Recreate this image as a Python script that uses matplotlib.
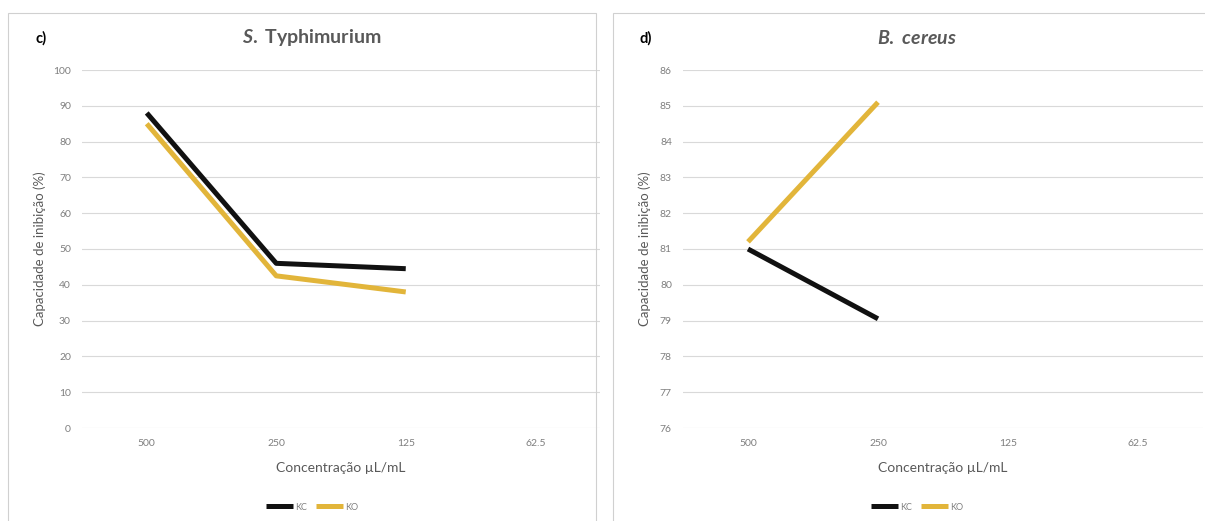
import matplotlib
matplotlib.use("Agg")
import matplotlib.pyplot as plt
from matplotlib.patches import Rectangle

plt.rcParams['font.family'] = ['Lato', 'DejaVu Sans']
plt.rcParams['mathtext.fontset'] = 'custom'
plt.rcParams['mathtext.it'] = 'Lato:italic:bold'
plt.rcParams['mathtext.rm'] = 'Lato:bold'

# --- DADOS ---
concentracoes = ["500", "250", "125", "62.5"]

st_kc = [88, 46, 44.5]
st_ko = [85, 42.5, 38]

bc_kc = [81, 79.05]
bc_ko = [81.2, 85.1]

cor_kc = "#111111"
cor_ko = "#E2B53A"
cinza_txt = "#595959"
cinza_grid = "#D9D9D9"

W, H = 1205, 521
fig = plt.figure(figsize=(W / 100, H / 100), dpi=100)


def fx(px):
    return px / W


def fy(py):
    return 1 - py / H


# bordas dos painéis
for x0, x1 in [(8, 596), (613, 1210)]:
    fig.patches.append(Rectangle((fx(x0), fy(530)), fx(x1 - x0), (530 - 13) / H,
                                 transform=fig.transFigure, fill=False,
                                 edgecolor="#D0D0D0", lw=0.8))


def painel(esq, dir_, kc, ko, ylim, letra, titulo, letra_x, titulo_x, ylab_x):
    ax = fig.add_axes([fx(esq), fy(428), fx(dir_ - esq), (428 - 70) / H])
    ax.plot(range(len(kc)), kc, color=cor_kc, lw=3.6, solid_capstyle="butt", label="KC", zorder=3)
    ax.plot(range(len(ko)), ko, color=cor_ko, lw=3.6, solid_capstyle="butt", label="KO", zorder=3)
    ax.set_xlim(-0.5, len(concentracoes) - 0.5)
    ax.set_ylim(*ylim)
    ax.set_xticks(range(len(concentracoes)))
    ax.set_xticklabels(concentracoes)
    step = 10 if ylim[1] - ylim[0] > 20 else 1
    ax.set_yticks(range(ylim[0], ylim[1] + 1, step))
    ax.grid(axis="y", color=cinza_grid, lw=0.8)
    ax.set_axisbelow(True)
    for s in ax.spines.values():
        s.set_visible(False)
    ax.tick_params(length=0, labelsize=7.5, colors="#7F7F7F", pad=8)
    ax.set_xlabel("Concentração µL/mL", fontsize=10, color=cinza_txt, labelpad=10)
    fig.text(fx(ylab_x), fy(249), "Capacidade de inibição (%)", rotation=90,
             fontsize=9.5, color=cinza_txt, ha="center", va="center")
    fig.text(fx(letra_x), fy(38), letra, fontsize=10.5, fontweight="bold", ha="left", va="center")
    fig.text(fx(titulo_x), fy(38), titulo, fontsize=14, fontweight="bold", color=cinza_txt,
             ha="center", va="center")
    ax.legend(loc="center", bbox_to_anchor=(fx(titulo_x), fy(507)), bbox_transform=fig.transFigure,
              ncol=2, frameon=False, fontsize=6.5, handlelength=3, columnspacing=1.0,
              handletextpad=0.2, labelcolor="#7F7F7F")
    return ax


painel(82, 600, st_kc, st_ko, (0, 100), "c)", r"$\mathit{S.}$ Typhimurium", 36, 312, 40)
painel(683, 1203, bc_kc, bc_ko, (76, 86), "d)", r"$\mathit{B.\ cereus}$", 640, 917, 645)

fig.savefig("out.png", dpi=100, facecolor="white")
